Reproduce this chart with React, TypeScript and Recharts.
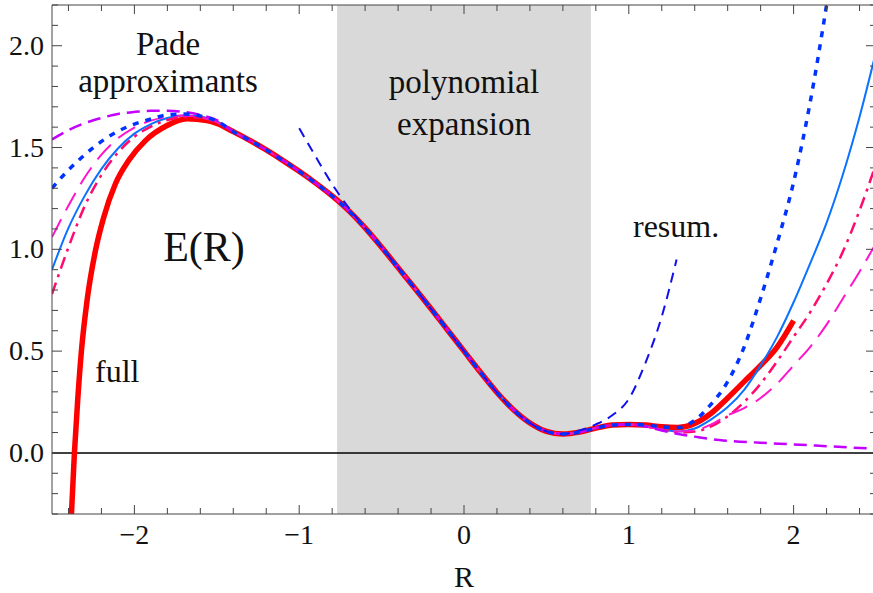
import { LineChart, Line, XAxis, YAxis, ReferenceArea, ReferenceLine } from "recharts";

// shared middle part of all curves (they coincide there)
const midX = [-1.4, -1.3, -1.2, -1.1, -1.0, -0.9, -0.8, -0.7, -0.6, -0.5, -0.4, -0.3, -0.2, -0.1, 0, 0.1, 0.2, 0.3, 0.4, 0.5, 0.6, 0.7, 0.8, 0.9, 1.0];
const midY = [1.578, 1.535, 1.488, 1.437, 1.383, 1.325, 1.262, 1.19, 1.105, 1.01, 0.91, 0.81, 0.708, 0.604, 0.5, 0.396, 0.297, 0.212, 0.147, 0.106, 0.093, 0.102, 0.122, 0.137, 0.14];

// full E(R)
const fullLeftX = [-2.382, -2.364, -2.344, -2.321, -2.287, -2.236, -2.186, -2.115, -2.035, -1.933, -1.802, -1.681, -1.56, -1.5];
const fullLeftY = [-0.3, 0.0, 0.26, 0.505, 0.75, 0.995, 1.158, 1.322, 1.436, 1.534, 1.608, 1.641, 1.632, 1.618];
const fullRightX = [1.1, 1.2, 1.3, 1.4, 1.5, 1.6, 1.7, 1.8, 1.9, 2.0];
const fullRightY = [0.137, 0.128, 0.125, 0.145, 0.195, 0.27, 0.35, 0.43, 0.52, 0.65];

// Pade approximants
const sideX = [-2.5, -2.4, -2.3, -2.2, -2.1, -2.0, -1.9, -1.8, -1.7, -1.6, -1.5];
const rightX = [1.1, 1.2, 1.3, 1.4, 1.5, 1.6, 1.7, 1.8, 1.9, 2.0, 2.1, 2.2, 2.3, 2.4, 2.5];

const solidLeftY = [0.9, 1.105, 1.265, 1.395, 1.495, 1.568, 1.615, 1.645, 1.657, 1.652, 1.628];
const solidRightY = [0.133, 0.115, 0.105, 0.12, 0.165, 0.225, 0.31, 0.43, 0.57, 0.74, 0.93, 1.13, 1.37, 1.65, 1.97];

const dottedLeftY = [1.3, 1.39, 1.465, 1.53, 1.58, 1.615, 1.64, 1.66, 1.665, 1.655, 1.63];
const dottedRightX = [1.1, 1.2, 1.3, 1.4, 1.5, 1.6, 1.7, 1.8, 1.9, 2.0, 2.1, 2.2, 2.3];
const dottedRightY = [0.138, 0.128, 0.125, 0.16, 0.24, 0.35, 0.52, 0.76, 1.03, 1.33, 1.72, 2.2, 2.75];

const purpleLeftY = [1.54, 1.585, 1.62, 1.645, 1.665, 1.675, 1.68, 1.68, 1.675, 1.66, 1.635];
const purpleRightX = [1.1, 1.2, 1.3, 1.4, 1.5, 1.6, 1.8, 2.0, 2.2, 2.5];
const purpleRightY = [0.13, 0.11, 0.093, 0.08, 0.068, 0.06, 0.05, 0.042, 0.033, 0.02];

const longLeftY = [1.06, 1.215, 1.355, 1.465, 1.545, 1.598, 1.632, 1.65, 1.657, 1.648, 1.625];
const longRightY = [0.13, 0.115, 0.105, 0.11, 0.14, 0.185, 0.22, 0.27, 0.34, 0.43, 0.52, 0.63, 0.76, 0.89, 1.03];

const dashDotLeftY = [0.78, 1.01, 1.215, 1.365, 1.475, 1.553, 1.603, 1.635, 1.65, 1.647, 1.623];
const dashDotRightY = [0.13, 0.115, 0.1, 0.105, 0.13, 0.18, 0.25, 0.34, 0.45, 0.57, 0.69, 0.83, 0.99, 1.19, 1.42];

// resummation
const resumX = [-1.0, -0.9, -0.8, -0.7, -0.6, -0.5, -0.4, -0.3, -0.2, -0.1, 0, 0.1, 0.2, 0.3, 0.4, 0.5, 0.6, 0.7, 0.8, 0.9, 1.0, 1.1, 1.2, 1.29];
const resumY = [1.595, 1.455, 1.32, 1.205, 1.105, 1.01, 0.91, 0.81, 0.708, 0.604, 0.5, 0.396, 0.297, 0.212, 0.147, 0.106, 0.093, 0.11, 0.14, 0.185, 0.265, 0.44, 0.67, 0.95];

const xTicks = [-2.4, -2.2, -2, -1.8, -1.6, -1.4, -1.2, -1, -0.8, -0.6, -0.4, -0.2, 0, 0.2, 0.4, 0.6, 0.8, 1, 1.2, 1.4, 1.6, 1.8, 2, 2.2, 2.4];
const yTicks = [-0.3, -0.2, -0.1, 0, 0.1, 0.2, 0.3, 0.4, 0.5, 0.6, 0.7, 0.8, 0.9, 1, 1.1, 1.2, 1.3, 1.4, 1.5, 1.6, 1.7, 1.8, 1.9, 2, 2.1, 2.2];
const polyBand = [-0.77, 0.77];

const pts = (xs: number[], ys: number[]) => xs.map((x, i) => ({ x, y: ys[i] }));
const withMid = (lx: number[], ly: number[], rx: number[], ry: number[]) => [
  ...pts(lx, ly),
  ...pts(midX, midY),
  ...pts(rx, ry),
];

const fullData = withMid(fullLeftX, fullLeftY, fullRightX, fullRightY);
const solidData = withMid(sideX, solidLeftY, rightX, solidRightY);
const dottedData = withMid(sideX, dottedLeftY, dottedRightX, dottedRightY);
const purpleData = withMid(sideX, purpleLeftY, purpleRightX, purpleRightY);
const longData = withMid(sideX, longLeftY, rightX, longRightY);
const dashDotData = withMid(sideX, dashDotLeftY, rightX, dashDotRightY);
const resumData = pts(resumX, resumY);

const FONT = "'Liberation Serif', 'Times New Roman', serif";
const AX = "#444";

const isInt = (v: number) => Math.abs(v - Math.round(v)) < 1e-6;
const isHalf = (v: number) => isInt(v * 2);
const fmtX = (v: number) => (v < 0 ? "\u2212" + Math.abs(Math.round(v)) : String(Math.round(v)));

function BottomTick(props: any) {
  const { x, y, payload } = props;
  const major = isInt(payload.value);
  return (
    <g>
      <line x1={x} x2={x} y1={y} y2={y - (major ? 9 : 6)} stroke={AX} />
      {major && (
        <text x={x} y={y + 30} textAnchor="middle" fontFamily={FONT} fontSize={28} fill="#111">
          {fmtX(payload.value)}
        </text>
      )}
    </g>
  );
}

function TopTick(props: any) {
  const { x, y, payload } = props;
  const major = isInt(payload.value);
  return <line x1={x} x2={x} y1={y} y2={y + (major ? 9 : 6)} stroke={AX} />;
}

function LeftTick(props: any) {
  const { x, y, payload } = props;
  const major = isHalf(payload.value);
  return (
    <g>
      <line x1={x} x2={x + (major ? 10 : 6)} y1={y} y2={y} stroke={AX} />
      {major && (
        <text x={x - 8} y={y + 9} textAnchor="end" fontFamily={FONT} fontSize={28} fill="#111">
          {payload.value.toFixed(1)}
        </text>
      )}
    </g>
  );
}

function RightTick(props: any) {
  const { x, y, payload } = props;
  const major = isHalf(payload.value);
  return <line x1={x} x2={x - (major ? 10 : 6)} y1={y} y2={y} stroke={AX} />;
}

export default function App() {
  return (
    <div style={{ position: "absolute", left: 0, top: 0, width: 873, height: 593, overflow: "hidden", background: "#fff" }}>
      <LineChart width={880} height={593} margin={{ top: 0, right: 0, bottom: 0, left: 0 }}>
        <XAxis xAxisId="bottom" dataKey="x" type="number" domain={[-2.5, 2.5]} ticks={xTicks} allowDataOverflow
          height={79} tickSize={0} tickMargin={0} tickLine={false} tick={<BottomTick />} axisLine={{ stroke: AX }} interval={0} />
        <XAxis xAxisId="top" orientation="top" dataKey="x" type="number" domain={[-2.5, 2.5]} ticks={xTicks} allowDataOverflow
          height={5} tickSize={0} tickMargin={0} tickLine={false} tick={<TopTick />} axisLine={{ stroke: AX }} interval={0} />
        <YAxis yAxisId="left" type="number" domain={[-0.3, 2.2]} ticks={yTicks} allowDataOverflow
          width={52} tickSize={0} tickMargin={0} tickLine={false} tick={<LeftTick />} axisLine={{ stroke: AX }} interval={0} />
        <YAxis yAxisId="right" orientation="right" type="number" domain={[-0.3, 2.2]} ticks={yTicks} allowDataOverflow
          width={4} tickSize={0} tickMargin={0} tickLine={false} tick={<RightTick />} axisLine={{ stroke: AX }} interval={0} />

        <ReferenceArea xAxisId="bottom" yAxisId="left" x1={polyBand[0]} x2={polyBand[1]} y1={-0.3} y2={2.2} fill="#d9d9d9" fillOpacity={1} stroke="none" />
        <ReferenceLine xAxisId="bottom" yAxisId="left" y={0} stroke="#000" strokeWidth={1.5} />

        <Line xAxisId="bottom" yAxisId="left" data={fullData} dataKey="y" type="monotone" stroke="#ff0000" strokeWidth={5.5} dot={false} activeDot={false} isAnimationActive={false} />
        <Line xAxisId="bottom" yAxisId="left" data={solidData} dataKey="y" type="monotone" stroke="#0a72ff" strokeWidth={2} dot={false} activeDot={false} isAnimationActive={false} />
        <Line xAxisId="bottom" yAxisId="left" data={dashDotData} dataKey="y" type="monotone" stroke="#ff0a6e" strokeWidth={2.5} strokeDasharray="12 6 3 6" dot={false} activeDot={false} isAnimationActive={false} />
        <Line xAxisId="bottom" yAxisId="left" data={longData} dataKey="y" type="monotone" stroke="#ff14cc" strokeWidth={2} strokeDasharray="20 10" dot={false} activeDot={false} isAnimationActive={false} />
        <Line xAxisId="bottom" yAxisId="left" data={purpleData} dataKey="y" type="monotone" stroke="#c400ff" strokeWidth={2.5} strokeDasharray="13 7" dot={false} activeDot={false} isAnimationActive={false} />
        <Line xAxisId="bottom" yAxisId="left" data={resumData} dataKey="y" type="monotone" stroke="#1010ee" strokeWidth={2} strokeDasharray="10 7" dot={false} activeDot={false} isAnimationActive={false} />
        <Line xAxisId="bottom" yAxisId="left" data={dottedData} dataKey="y" type="monotone" stroke="#0033ff" strokeWidth={3.5} strokeDasharray="6 7" dot={false} activeDot={false} isAnimationActive={false} />
      </LineChart>

      <svg width={873} height={593} style={{ position: "absolute", left: 0, top: 0, pointerEvents: "none" }}>
        <g fontFamily={FONT} fill="#111">
          <text x={168} y={55} fontSize={33} textAnchor="middle">Pade</text>
          <text x={168} y={92} fontSize={33} textAnchor="middle">approximants</text>
          <text x={464} y={93} fontSize={33} textAnchor="middle">polynomial</text>
          <text x={464} y={135} fontSize={33} textAnchor="middle">expansion</text>
          <text x={204} y={261} fontSize={42} textAnchor="middle">E(R)</text>
          <text x={95} y={382} fontSize={32}>full</text>
          <text x={633} y={237} fontSize={32}>resum.</text>
          <text x={464} y={587} fontSize={30} textAnchor="middle">R</text>
        </g>
      </svg>
    </div>
  );
}
